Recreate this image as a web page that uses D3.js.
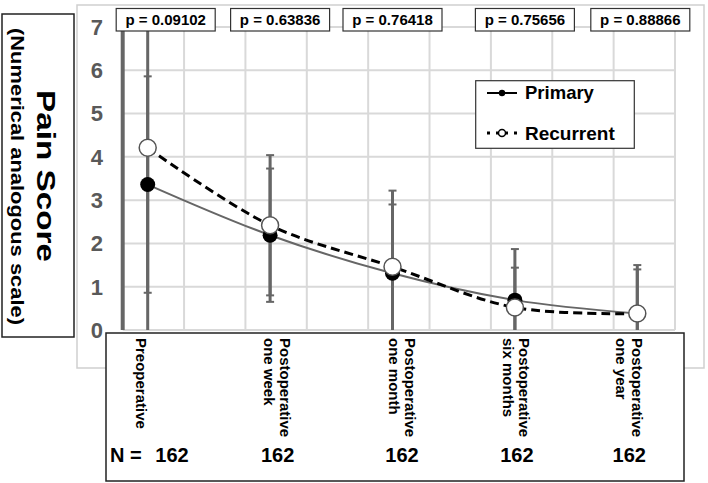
<!DOCTYPE html>
<html>
<head>
  <meta charset="utf-8">
  <script src="https://d3js.org/d3.v7.min.js"></script>
  <style>
    body { margin: 0; background: #fff; }
    text { font-family: "Liberation Sans", Arial, sans-serif; font-weight: bold; }
  </style>
</head>
<body>
  <div id="chart"></div>
  <script>
    // values
    var categories = ["Preoperative", "Postoperative one week", "Postoperative one month",
      "Postoperative six months", "Postoperative one year"];
    var categoryLines = [["Preoperative"], ["Postoperative", "one week"], ["Postoperative", "one month"],
      ["Postoperative", "six months"], ["Postoperative", "one year"]];
    var primaryMean = [3.36, 2.19, 1.31, 0.69, 0.38];
    var primarySD = [2.50, 1.54, 1.59, 1.18, 1.02];
    var recurrentMean = [4.21, 2.42, 1.46, 0.52, 0.38];
    var recurrentSD = [4.50, 1.62, 1.76, 0.92, 1.12];
    var pValues = ["0.09102", "0.63836", "0.76418", "0.75656", "0.88866"];
    var nValues = [162, 162, 162, 162, 162];
    var yTicks = [0, 1, 2, 3, 4, 5, 6, 7];

    var width = 708,
      height = 483;

    var svg = d3.select('#chart')
      .append('svg')
      .attr('width', width)
      .attr('height', height);

    svg.append('rect').attr('width', width).attr('height', height).attr('fill', '#fff');

    var x = d3.scalePoint().domain(categories).range([147.7, 637.3]);
    var y = d3.scaleLinear().domain([0, 7]).range([330, 27]);
    // vertical gridlines sit on half-steps of the category spacing
    var gx = d3.scaleLinear().domain([0, 9]).range([122.7, 675]);

    // outer chart frame
    svg.append('rect')
      .attr('x', 77).attr('y', 5).attr('width', 627).attr('height', 363)
      .attr('fill', '#fff').attr('stroke', '#cfcfcf').attr('stroke-width', 1.5);

    // grid
    var grid = svg.append('g').attr('stroke', '#d9d9d9').attr('stroke-width', 2);
    grid.selectAll('.h').data(yTicks).enter().append('line')
      .attr('x1', gx(0)).attr('x2', gx(9))
      .attr('y1', function(d) { return y(d); })
      .attr('y2', function(d) { return y(d); });
    grid.selectAll('.v').data(d3.range(1, 10)).enter().append('line')
      .attr('x1', function(d) { return gx(d); })
      .attr('x2', function(d) { return gx(d); })
      .attr('y1', y(7)).attr('y2', y(0));

    // thick left axis
    svg.append('line')
      .attr('x1', gx(0)).attr('x2', gx(0)).attr('y1', y(7)).attr('y2', y(0))
      .attr('stroke', '#666').attr('stroke-width', 4);

    // y tick labels
    svg.append('g').selectAll('text').data(yTicks).enter().append('text')
      .attr('x', 103).attr('y', function(d) { return y(d); })
      .attr('dy', '0.36em')
      .attr('text-anchor', 'end')
      .attr('font-size', 22)
      .attr('fill', '#595959')
      .text(function(d) { return d; });

    // error bars (clipped to 0..7)
    function errorBars(means, sds) {
      var g = svg.append('g').attr('stroke', '#666');
      means.forEach(function(m, i) {
        var cx = x(categories[i]);
        var hi = m + sds[i], lo = m - sds[i];
        g.append('line')
          .attr('x1', cx).attr('x2', cx)
          .attr('y1', y(Math.min(hi, 7))).attr('y2', y(Math.max(lo, 0)))
          .attr('stroke-width', 3);
        [hi, lo].forEach(function(v) {
          if (v <= 7 && v >= 0) {
            g.append('line')
              .attr('x1', cx - 4).attr('x2', cx + 4)
              .attr('y1', y(v)).attr('y2', y(v))
              .attr('stroke-width', 2);
          }
        });
      });
    }
    errorBars(primaryMean, primarySD);
    errorBars(recurrentMean, recurrentSD);

    var line = d3.line()
      .x(function(d, i) { return x(categories[i]); })
      .y(function(d) { return y(d); })
      .curve(d3.curveCatmullRom.alpha(0.5));

    svg.append('path').datum(primaryMean)
      .attr('d', line).attr('fill', 'none')
      .attr('stroke', '#666').attr('stroke-width', 2);

    svg.append('path').datum(recurrentMean)
      .attr('d', line).attr('fill', 'none')
      .attr('stroke', '#000').attr('stroke-width', 3)
      .attr('stroke-dasharray', '9,5');

    svg.append('g').selectAll('circle').data(primaryMean).enter().append('circle')
      .attr('cx', function(d, i) { return x(categories[i]); })
      .attr('cy', function(d) { return y(d); })
      .attr('r', 7.5).attr('fill', '#000');

    svg.append('g').selectAll('circle').data(recurrentMean).enter().append('circle')
      .attr('cx', function(d, i) { return x(categories[i]); })
      .attr('cy', function(d) { return y(d); })
      .attr('r', 8.5).attr('fill', '#fff')
      .attr('stroke', '#555').attr('stroke-width', 1.5);

    // p value boxes
    var pOffset = [18, 10, 0, 10, 3];
    var pBox = svg.append('g').selectAll('g').data(pValues).enter().append('g')
      .attr('transform', function(d, i) {
        return 'translate(' + (x(categories[i]) + pOffset[i]) + ',20)';
      });
    pBox.append('rect')
      .attr('x', -49.5).attr('y', -11.5).attr('width', 99).attr('height', 22.5)
      .attr('fill', '#fff').attr('stroke', '#333').attr('stroke-width', 1.2);
    pBox.append('text')
      .attr('text-anchor', 'middle').attr('dy', '0.36em')
      .attr('font-size', 15)
      .text(function(d) { return 'p = ' + d; });

    // legend
    var legend = svg.append('g');
    legend.append('rect')
      .attr('x', 475.7).attr('y', 80.7).attr('width', 158.6).attr('height', 67.6)
      .attr('fill', '#fff').attr('stroke', '#333').attr('stroke-width', 1.2);
    legend.append('line')
      .attr('x1', 487).attr('x2', 517).attr('y1', 93).attr('y2', 93)
      .attr('stroke', '#000').attr('stroke-width', 2);
    legend.append('circle').attr('cx', 502).attr('cy', 93).attr('r', 3.2).attr('fill', '#000');
    legend.append('line')
      .attr('x1', 487).attr('x2', 517).attr('y1', 133).attr('y2', 133)
      .attr('stroke', '#000').attr('stroke-width', 3).attr('stroke-dasharray', '3,6');
    legend.append('circle').attr('cx', 502).attr('cy', 133).attr('r', 3.5)
      .attr('fill', '#fff').attr('stroke', '#000').attr('stroke-width', 1.5);
    legend.append('text').attr('x', 525).attr('y', 99).attr('font-size', 18.5).text('Primary');
    legend.append('text').attr('x', 525).attr('y', 140).attr('font-size', 19).text('Recurrent');

    // y axis title box
    svg.append('rect')
      .attr('x', 2).attr('y', 14).attr('width', 72).attr('height', 323)
      .attr('fill', '#fff').attr('stroke', '#222').attr('stroke-width', 1.5);
    svg.append('text')
      .attr('transform', 'translate(46,176) rotate(90)')
      .attr('text-anchor', 'middle').attr('dy', '0.36em')
      .attr('font-size', 25)
      .attr('textLength', 172).attr('lengthAdjust', 'spacingAndGlyphs')
      .text('Pain Score');
    svg.append('text')
      .attr('transform', 'translate(17.5,176.5) rotate(90)')
      .attr('text-anchor', 'middle').attr('dy', '0.36em')
      .attr('font-size', 19)
      .attr('textLength', 297).attr('lengthAdjust', 'spacingAndGlyphs')
      .text('(Numerical analogous scale)');

    // category / N box
    svg.append('rect')
      .attr('x', 106).attr('y', 333).attr('width', 578).attr('height', 148)
      .attr('fill', '#fff').attr('stroke', '#222').attr('stroke-width', 1.5);

    var labelOffset = [-6, 7.5, 9.5, 2, -8];
    var labels = svg.append('g').selectAll('g').data(categoryLines).enter().append('g')
      .attr('transform', function(d, i) {
        return 'translate(' + (x(categories[i]) + labelOffset[i]) + ',338) rotate(90)';
      });
    labels.selectAll('text').data(function(d) { return d; }).enter().append('text')
      .attr('x', 0)
      .attr('y', function(d, j, nodes) { return (j - (nodes.length - 1) / 2) * 16; })
      .attr('dy', '0.36em')
      .attr('font-size', 15)
      .text(function(d) { return d; });

    svg.append('text').attr('x', 110).attr('y', 462).attr('font-size', 20).text('N =');
    svg.append('g').selectAll('text').data(nValues).enter().append('text')
      .attr('x', function(d, i) { return i === 0 ? 172 : x(categories[i]) + labelOffset[i]; })
      .attr('y', 462)
      .attr('text-anchor', 'middle')
      .attr('font-size', 20)
      .text(function(d) { return d; });
  </script>
</body>
</html>
